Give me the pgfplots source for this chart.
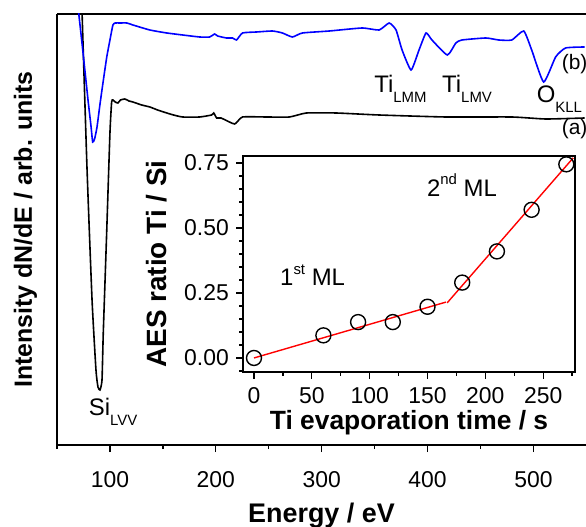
\documentclass[border=0pt]{standalone}
\usepackage{pgfplots}
\pgfplotsset{compat=1.18}
\usepackage{fontspec}
\setmainfont{Liberation Sans}
\begin{document}
\begin{tikzpicture}
\path[use as bounding box] (0,0) rectangle (586bp,527bp);
\begin{axis}[
  at={(57bp,82bp)}, anchor=south west,
  scale only axis, width=529bp, height=431bp,
  xmin=50, xmax=549.6, ymin=82, ymax=513,
  axis x line=box, axis y line=left,
  axis line style={-, line width=1.4bp},
  xtick={100,200,300,400,500},
  minor xtick={50,150,250,350,450},
  ytick=\empty,
  xtick pos=left,
  tick align=outside,
  major tick length=7bp, minor tick length=4bp,
  every tick/.style={line width=1.3bp, black},
  /pgf/number format/assume math mode=true,
  tick label style={font=\fontsize{23}{26}\selectfont},
  xticklabel style={anchor=base, inner sep=0pt, yshift=-35bp},
  xlabel={\textbf{Energy / eV}},
  ylabel={\textbf{Intensity dN/dE / arb. units}},
  xlabel style={at={(axis description cs:0.5,-0.1787)}, anchor=base, inner sep=0pt, font=\fontsize{27}{30}\selectfont},
  ylabel style={at={(axis description cs:-0.0473,0.5)}, anchor=base, inner sep=0pt, font=\fontsize{25}{28}\selectfont},
]
\addplot[black, line width=1.6bp, smooth, tension=0.3] coordinates {
(72.7,547) (78.3,360) (83.1,227) (86.8,157) (88.7,140) (90.6,137) (92.5,147) (93.7,194) (96.9,294) (100,394) (101.6,425) (102.8,427) (105,425) (107.5,424) (110,427) (114.1,428) (118,426) (121.7,425) (130,422) (137.7,420) (145,417) (153.7,414) (160,412) (168.7,410) (184.7,410) (196,412) (198,414) (200.8,409) (205,409) (217.7,403) (225.2,410) (247.8,410) (269.5,410) (285.5,414) (313.7,414) (354.2,412) (417.3,410) (479.5,410) (511.5,408) (548.2,409)
};
\addplot[blue, line width=1.6bp, smooth, tension=0.3] coordinates {
(67,547) (73.6,484) (79.3,427) (82,402) (83.7,385) (85.5,388) (87.8,400) (90.5,422) (93.4,444) (97,470) (100,487) (102.8,502) (105,504) (109.4,504) (116,504) (121.7,502) (137.7,497) (153.7,494) (168.7,492) (184.7,490) (194.2,490) (198.9,493) (201.7,491) (210,489) (215.8,489) (219.6,487) (225.2,494) (238.4,495) (253.5,496) (262.9,494) (272.3,490) (281.7,494) (307.2,496) (338.2,499) (354.2,497) (363.7,504) (370.2,497) (375.9,477) (384.4,457) (391.9,477) (398.5,494) (404.1,487) (418.6,472) (426.7,484) (432.4,487) (455,489) (467.2,487) (479.5,487) (490.8,496) (498.3,477) (509.6,445) (520.9,470) (530.3,479) (548.2,480)
};
\node[anchor=base west, font=\fontsize{24}{27}\selectfont, inner sep=0pt] at (axis cs:349.5,434) {Ti\raisebox{-10bp}{\fontsize{15}{15}\selectfont LMM}};
\node[anchor=base west, font=\fontsize{24}{27}\selectfont, inner sep=0pt] at (axis cs:413.6,434) {Ti\raisebox{-10bp}{\fontsize{15}{15}\selectfont LMV}};
\node[anchor=base west, font=\fontsize{24}{27}\selectfont, inner sep=0pt] at (axis cs:503,424) {O\raisebox{-10bp}{\fontsize{15}{15}\selectfont KLL}};
\node[anchor=base west, font=\fontsize{21}{24}\selectfont, inner sep=0pt] at (axis cs:526.6,457) {(b)};
\node[anchor=base west, font=\fontsize{21}{24}\selectfont, inner sep=0pt] at (axis cs:526.6,392) {(a)};
\node[anchor=base west, font=\fontsize{24}{27}\selectfont, inner sep=0pt] at (axis cs:80,112) {Si\raisebox{-10bp}{\fontsize{15}{15}\selectfont LVV}};
\end{axis}
\begin{axis}[
  at={(243bp,155bp)}, anchor=south west,
  scale only axis, width=332bp, height=216bp,
  xmin=-9.5, xmax=277.5, ymin=-0.054, ymax=0.777,
  axis line style={line width=1.4bp},
  tick pos=left, tick align=outside,
  xtick={0,50,100,150,200,250},
  minor xtick={25,75,125,175,225,275},
  ytick={0,0.25,0.5,0.75},
  minor ytick={-0.05,0.05,0.1,0.15,0.2,0.3,0.35,0.4,0.45,0.55,0.6,0.65,0.7},
  major tick length=7bp, minor tick length=4bp,
  every tick/.style={line width=1.3bp, black},
  /pgf/number format/assume math mode=true,
  tick label style={font=\fontsize{23}{26}\selectfont},
  yticklabel style={/pgf/number format/.cd, fixed, fixed zerofill, precision=2, /tikz/.cd, anchor=east, inner sep=0pt, xshift=-7bp},
  xticklabel style={anchor=base, inner sep=0pt, yshift=-25bp},
  xlabel={\textbf{Ti evaporation time / s}},
  ylabel={\textbf{AES ratio Ti / Si}},
  xlabel style={at={(axis description cs:0.5,-0.266)}, anchor=base, inner sep=0pt, font=\fontsize{26.5}{29}\selectfont},
  ylabel style={at={(axis description cs:-0.229,0.5)}, anchor=base, inner sep=0pt, font=\fontsize{28}{31}\selectfont},
]
\addplot[red, line width=1.4bp] coordinates {(0,0) (166,0.215)};
\addplot[red, line width=1.4bp] coordinates {(167,0.212) (276,0.77)};
\addplot[only marks, mark=o, mark size=7.5bp, mark options={line width=1.4bp, black}] coordinates {
(0,0) (60,0.087) (90,0.138) (120,0.138) (150,0.197) (180,0.29) (210,0.41) (240,0.57) (270,0.745)
};
\node[anchor=base west, font=\fontsize{24}{27}\selectfont, inner sep=0pt] at (axis cs:22.5,0.28) {1\raisebox{11bp}{\fontsize{15}{15}\selectfont st} ML};
\node[anchor=base west, font=\fontsize{24}{27}\selectfont, inner sep=0pt] at (axis cs:149.5,0.62) {2\raisebox{12bp}{\fontsize{15}{15}\selectfont nd} ML};
\end{axis}
\end{tikzpicture}
\end{document}
